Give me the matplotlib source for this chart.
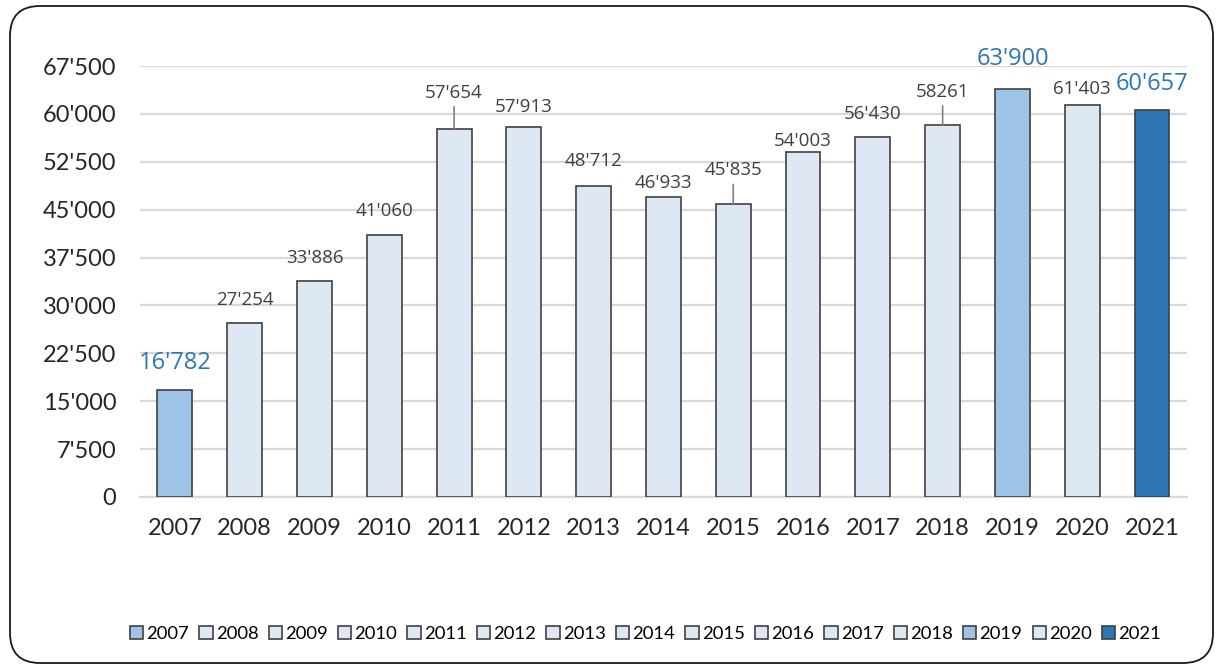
import matplotlib.pyplot as plt
from matplotlib.patches import FancyBboxPatch

years = ['2007', '2008', '2009', '2010', '2011', '2012', '2013', '2014',
         '2015', '2016', '2017', '2018', '2019', '2020', '2021']
values = [16782, 27254, 33886, 41060, 57654, 57913, 48712, 46933,
          45835, 54003, 56430, 58261, 63900, 61403, 60657]
labels = ["16'782", "27'254", "33'886", "41'060", "57'654", "57'913", "48'712", "46'933",
          "45'835", "54'003", "56'430", "58261", "63'900", "61'403", "60'657"]

light = '#dde8f4'
mid = '#9dc3e6'
dark = '#2e75b6'
colors = [mid] + [light] * 11 + [mid, light, dark]
# label offsets above bar top (pixels), leader line flags, highlighted labels
offsets = [27, 23, 23, 24, 36, 20, 25, 14, 34, 11, 23, 33, 30, 16, 26]
leaders = [False] * 4 + [True] + [False] * 3 + [True] + [False] * 2 + [True] + [False] * 3
highlight = [True] + [False] * 11 + [True, False, True]

fig = plt.figure(figsize=(12.16, 6.67), dpi=100)
ax = fig.add_axes([0.1151, 0.2549, 0.8610, 0.6461])

x = range(len(years))
bars = ax.bar(x, values, width=0.5, color=colors, edgecolor='#404040', linewidth=1.2, zorder=3)

ax.set_xlim(-0.5, len(years) - 0.5)
ax.set_ylim(0, 67500)
yt = list(range(0, 67501, 7500))
ax.set_yticks(yt)
ax.set_yticklabels([f"{v:,}".replace(',', "'") for v in yt])
ax.set_xticks(list(x))
ax.set_xticklabels(years)
ax.grid(axis='y', color='#d9d9d9', linewidth=1.6, zorder=0)
for s in ['top', 'right', 'left']:
    ax.spines[s].set_visible(False)
ax.spines['bottom'].set_color('#d9d9d9')
ax.spines['bottom'].set_linewidth(1.6)
ax.tick_params(axis='both', length=0, labelsize=17, labelcolor='#262626')
ax.tick_params(axis='x', pad=15)
ax.tick_params(axis='y', pad=17)
for t in ax.get_xticklabels() + ax.get_yticklabels():
    t.set_fontfamily('Lato')

for i, v in enumerate(values):
    if highlight[i]:
        col, size = dark, 17
    else:
        col, size = '#404040', 13.5
    ax.annotate(labels[i], (i, v), xytext=(0, offsets[i]), textcoords='offset pixels',
                ha='center', va='center', color=col, fontsize=size,
                fontfamily='Open Sans', zorder=4)
    if leaders[i]:
        ax.annotate('', (i, v), xytext=(0, offsets[i] - 14), textcoords='offset pixels',
                    arrowprops=dict(arrowstyle='-', color='#7f7f7f', lw=1.2,
                                    shrinkA=0, shrinkB=0))

fig.legend(bars.patches, years, loc='center', bbox_to_anchor=(0.531, 0.0495),
           ncol=len(years), frameon=False, handlelength=0.72, handleheight=0.72,
           handletextpad=0.17, columnspacing=0.55,
           prop={'family': 'Lato', 'size': 13.3})

border = FancyBboxPatch((0.10, 0.04), 12.03, 6.57, boxstyle='round,pad=0,rounding_size=0.3',
                        transform=fig.dpi_scale_trans, facecolor='none',
                        edgecolor='#1a1a1a', linewidth=1.3)
fig.patches.append(border)

fig.savefig('out.png', dpi=100)
